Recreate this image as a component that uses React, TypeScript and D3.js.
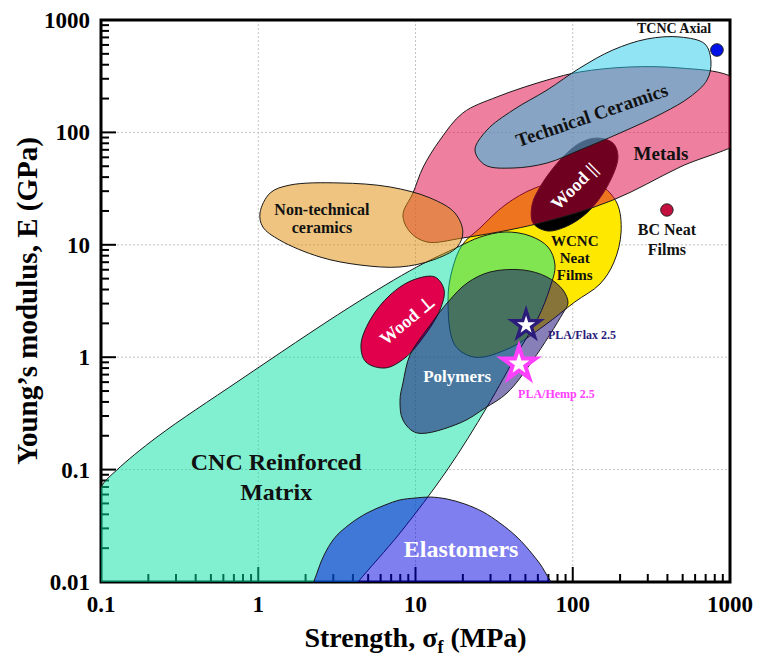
import React from 'react';
import * as d3 from 'd3';

type Pt = [number, number];

const width = 762;
const height = 669;
const plot = { left: 101, right: 730, top: 20, bottom: 582 };
const font = '"Liberation Serif", "Times New Roman", serif';

// axis tick labels
const xTickLabels = ['0.1', '1', '10', '100', '1000'];
const yTickLabels = ['0.01', '0.1', '1', '10', '100', '1000'];

// region outlines: [strength (MPa), modulus (GPa)]
const wcncFilms: Pt[] = [
  [16.1, 3.23], [17.1, 5.97], [19.8, 9.96], [25.7, 14.1], [37.1, 22.6], [57.5, 32.0],
  [96, 37.7], [149, 34.0], [191, 23.5], [203, 13.0], [183, 7.03], [149, 4.48],
  [103, 3.1], [66.6, 1.93], [39.9, 1.21], [23.9, 1.0], [17.8, 1.28],
];
const cncMatrix: Pt[] = [
  [0.0683, 0.0051], [0.0827, 0.029], [0.1, 0.07], [0.126, 0.0991], [0.227, 0.195],
  [0.766, 0.627], [3.83, 2.8], [10.2, 6.35], [18.6, 9.55], [25.7, 11.7], [37.1, 13.0],
  [53.5, 12.0], [69.6, 9.55], [77.1, 6.61], [71.6, 4.13], [60.1, 2.23], [44.9, 1.11],
  [28.5, 0.361], [15.9, 0.0991], [7.97, 0.0273], [4.31, 0.01], [3.31, 0.0062],
];
const woodPerp: Pt[] = [
  [13.3, 5.17], [15.2, 3.96], [14.3, 2.63], [11.5, 1.58], [8.57, 0.985], [6.4, 0.802],
  [4.84, 0.906], [4.5, 1.28], [5.14, 2.14], [6.88, 3.57], [9.64, 4.86],
];
const polymers: Pt[] = [
  [16.1, 3.1], [21.3, 4.57], [29.8, 5.73], [48.3, 5.97], [68.6, 5.17], [86.7, 3.96],
  [93.3, 3.03], [86.7, 2.47], [55.9, 0.944], [38.2, 0.48], [27.7, 0.353], [19.2, 0.26],
  [10.2, 0.212], [8.32, 0.276], [7.97, 0.416], [8.32, 0.589], [9.23, 1.05], [12.0, 1.82],
];
const elastomers: Pt[] = [
  [2.23, 0.0069], [2.4, 0.0128], [2.99, 0.0237], [3.83, 0.0328], [4.92, 0.0411],
  [6.4, 0.0484], [7.97, 0.0537], [9.93, 0.0558], [12.4, 0.057], [15.9, 0.0547],
  [20.6, 0.0494], [26.9, 0.042], [34.4, 0.0335], [44.2, 0.0251], [55.9, 0.0174],
  [66.6, 0.0123], [78.2, 0.0069], [22.2, 0.0061], [6.88, 0.0061],
];
const woodPar: Pt[] = [
  [143, 89.1], [180, 80.5], [194, 60.4], [165, 32.7], [123, 19.2], [89.3, 14.4],
  [68.6, 13.3], [55.9, 15.6], [55.1, 22.6], [61.9, 32.7], [83.0, 56.8], [111, 80.5],
];
const metals: Pt[] = [
  [8.32, 18.4], [9.64, 28.9], [11.2, 49.2], [14.3, 85.5], [20.0, 149], [33.0, 207],
  [68.6, 292], [111, 345], [231, 382], [481, 374], [1000, 318], [1552, 194],
  [1340, 94.8], [481, 49.2], [180, 25.0], [61.9, 15.6], [20.0, 11.5], [11.8, 10.6],
  [9.23, 13.0],
];
const nonTechCeramics: Pt[] = [
  [1.026, 19.2], [1.19, 28.9], [1.59, 34.0], [3.31, 35.5], [6.88, 32.7], [12.4, 26.1],
  [17.8, 19.2], [20.0, 13.0], [18.4, 9.55], [12.9, 7.32], [7.97, 6.35], [4.44, 6.61],
  [2.47, 7.79], [1.37, 11.0], [1.07, 14.4],
];
const techCeramics: Pt[] = [
  [23.9, 69.7], [28.5, 105], [41.7, 158], [68.6, 238], [111, 374], [180, 541],
  [297, 678], [481, 706], [693, 611], [757, 423], [714, 292], [557, 207], [375, 149],
  [200, 98.8], [111, 69.7], [68.6, 53.4], [41.7, 48.2], [27.7, 51.3],
];

// drawing order matters: later shapes blend over earlier ones
const regions = [
  { name: 'wcnc', pts: wcncFilms, fill: '#FFE800', opacity: 1 },
  { name: 'cnc', pts: cncMatrix, fill: '#01E1A1', opacity: 0.5 },
  { name: 'woodPerp', pts: woodPerp, fill: '#E0004C', opacity: 1 },
  { name: 'polymers', pts: polymers, fill: '#100070', opacity: 0.5 },
  { name: 'elastomers', pts: elastomers, fill: '#0000E0', opacity: 0.5 },
  { name: 'woodPar', pts: woodPar, fill: '#000000', opacity: 1 },
  { name: 'metals', pts: metals, fill: '#E00040', opacity: 0.5 },
  { name: 'nonTech', pts: nonTechCeramics, fill: '#DD8901', opacity: 0.5 },
  { name: 'tech', pts: techCeramics, fill: '#21C9E9', opacity: 0.5 },
];

// single points
const tcncAxial: Pt = [826, 541];
const bcNeatFilms: Pt = [397, 20.4];
const plaFlax: Pt = [50.5, 1.93];
const plaHemp: Pt = [45.5, 0.871];

// region labels (position in data units)
const labels = [
  { lines: ['Technical Ceramics'], at: [132, 143] as Pt, size: 19, color: '#111', rotate: -19 },
  { lines: ['Wood ||'], at: [102, 33.3] as Pt, size: 18, color: '#fff', rotate: -45 },
  { lines: ['Wood \u22A5'], at: [8.83, 2.14] as Pt, size: 18, color: '#fff', rotate: -40 },
];
const textBlocks = [
  { lines: ['Metals'], at: [364, 56.8] as Pt, size: 19, gap: 0, color: '#111', anchor: 'middle' },
  { lines: ['Non-technical', 'ceramics'], at: [2.54, 18.4] as Pt, size: 16, gap: 18, color: '#111', anchor: 'middle' },
  { lines: ['WCNC', 'Neat', 'Films'], at: [103, 9.75] as Pt, size: 15, gap: 17, color: '#111', anchor: 'middle' },
  { lines: ['BC Neat', 'Films'], at: [397, 12.2] as Pt, size: 16, gap: 20, color: '#111', anchor: 'middle' },
  { lines: ['TCNC Axial'], at: [441, 766] as Pt, size: 14, gap: 0, color: '#111', anchor: 'middle' },
  { lines: ['Polymers'], at: [18.4, 0.601] as Pt, size: 17, gap: 0, color: '#fff', anchor: 'middle' },
  { lines: ['Elastomers'], at: [19.5, 0.0167] as Pt, size: 24, gap: 0, color: '#fff', anchor: 'middle' },
  { lines: ['CNC Reinforced', 'Matrix'], at: [1.3, 0.0991] as Pt, size: 24, gap: 30, color: '#111', anchor: 'middle' },
  { lines: ['PLA/Flax 2.5'], at: [69.6, 1.45] as Pt, size: 12, gap: 0, color: '#2B1B7A', anchor: 'start' },
  { lines: ['PLA/Hemp 2.5'], at: [44.9, 0.434] as Pt, size: 12, gap: 0, color: '#FF40FF', anchor: 'start' },
];

const App: React.FC = () => {
  const x = d3.scaleLog().domain([0.1, 1000]).range([plot.left, plot.right]);
  const y = d3.scaleLog().domain([0.01, 1000]).range([plot.bottom, plot.top]);

  const outline = d3.line<Pt>()
    .x(d => x(d[0]))
    .y(d => y(d[1]))
    .curve(d3.curveCatmullRomClosed.alpha(0.5));

  const isMajor = (v: number) => Math.abs(Math.log10(v) - Math.round(Math.log10(v))) < 1e-6;
  const xTicks = x.ticks();
  const yTicks = y.ticks();

  const star = (r: number) => d3.symbol().type(d3.symbolStar).size((r * r) / 0.8908130915292852)() as string;

  return (
    <svg width={width} height={height} style={{ position: 'absolute', left: 0, top: 0, background: '#fff' }}>
      <defs>
        <clipPath id="plot-clip">
          <rect x={plot.left} y={plot.top} width={plot.right - plot.left} height={plot.bottom - plot.top} />
        </clipPath>
      </defs>

      {/* grid */}
      <g stroke="#c4c4c4" strokeWidth={1} strokeDasharray="2,2">
        {xTicks.filter(v => isMajor(v) && v > 0.1 && v < 1000).map(v => (
          <line key={`gx${v}`} x1={x(v)} x2={x(v)} y1={plot.top} y2={plot.bottom} />
        ))}
        {yTicks.filter(v => isMajor(v) && v > 0.01 && v < 1000).map(v => (
          <line key={`gy${v}`} x1={plot.left} x2={plot.right} y1={y(v)} y2={y(v)} />
        ))}
      </g>

      {/* ticks and frame, under the translucent regions */}
      <g stroke="#000" strokeWidth={2}>
        {xTicks.map(v => (
          <line key={`tx${v}`} x1={x(v)} x2={x(v)} y1={plot.bottom} y2={plot.bottom - (isMajor(v) ? 15 : 8)} />
        ))}
        {yTicks.map(v => (
          <line key={`ty${v}`} x1={plot.left} x2={plot.left + (isMajor(v) ? 15 : 8)} y1={y(v)} y2={y(v)} />
        ))}
      </g>
      <rect x={plot.left} y={plot.top} width={plot.right - plot.left} height={plot.bottom - plot.top}
        fill="none" stroke="#000" strokeWidth={3} />

      {/* material regions */}
      <g clipPath="url(#plot-clip)">
        {regions.map(r => (
          <path key={r.name} d={outline(r.pts) as string} fill={r.fill} fillOpacity={r.opacity}
            stroke="#1a1a1a" strokeWidth={1} />
        ))}
      </g>

      {/* points */}
      <circle cx={x(tcncAxial[0])} cy={y(tcncAxial[1])} r={6.3} fill="#0010E8" stroke="#222" strokeWidth={1} />
      <circle cx={x(bcNeatFilms[0])} cy={y(bcNeatFilms[1])} r={6.2} fill="#C4103E" stroke="#222" strokeWidth={1} />
      <g transform={`translate(${x(plaFlax[0])},${y(plaFlax[1])})`}>
        <path d={star(20)} fill="#2B1B7A" />
        <path d={star(9.5)} fill="#fff" />
      </g>
      <g transform={`translate(${x(plaHemp[0])},${y(plaHemp[1])})`}>
        <path d={star(24)} fill="#FF40FF" />
        <path d={star(11)} fill="#fff" />
      </g>

      {/* labels */}
      <g fontFamily={font} fontWeight="bold">
        {labels.map(l => (
          <text key={l.lines[0]} transform={`translate(${x(l.at[0])},${y(l.at[1])}) rotate(${l.rotate})`}
            textAnchor="middle" dy="0.35em" fontSize={l.size} fill={l.color}>{l.lines[0]}</text>
        ))}
        {textBlocks.map(b => (
          <text key={b.lines.join()} x={x(b.at[0])} y={y(b.at[1])} textAnchor={b.anchor}
            fontSize={b.size} fill={b.color}>
            {b.lines.map((s, i) => (
              <tspan key={s} x={x(b.at[0])} dy={i === 0 ? 0 : b.gap}>{s}</tspan>
            ))}
          </text>
        ))}
      </g>

      {/* tick labels */}
      <g fontFamily={font} fontWeight="bold" fontSize={23} fill="#000">
        {xTickLabels.map(t => (
          <text key={`lx${t}`} x={x(+t)} y={plot.bottom + 30} textAnchor="middle">{t}</text>
        ))}
        {yTickLabels.map(t => (
          <text key={`ly${t}`} x={plot.left - 11} y={y(+t)} dy="0.35em" textAnchor="end">{t}</text>
        ))}
      </g>

      {/* axis titles */}
      <text x={(plot.left + plot.right) / 2} y={647} textAnchor="middle" fontFamily={font}
        fontWeight="bold" fontSize={28}>
        Strength, σ<tspan fontSize={18} dy={6}>f</tspan><tspan dy={-6}> (MPa)</tspan>
      </text>
      <text transform={`translate(37,${(plot.top + plot.bottom) / 2}) rotate(-90)`} textAnchor="middle"
        fontFamily={font} fontWeight="bold" fontSize={29}>
        Young’s modulus, E (GPa)
      </text>
    </svg>
  );
};

export default App;
